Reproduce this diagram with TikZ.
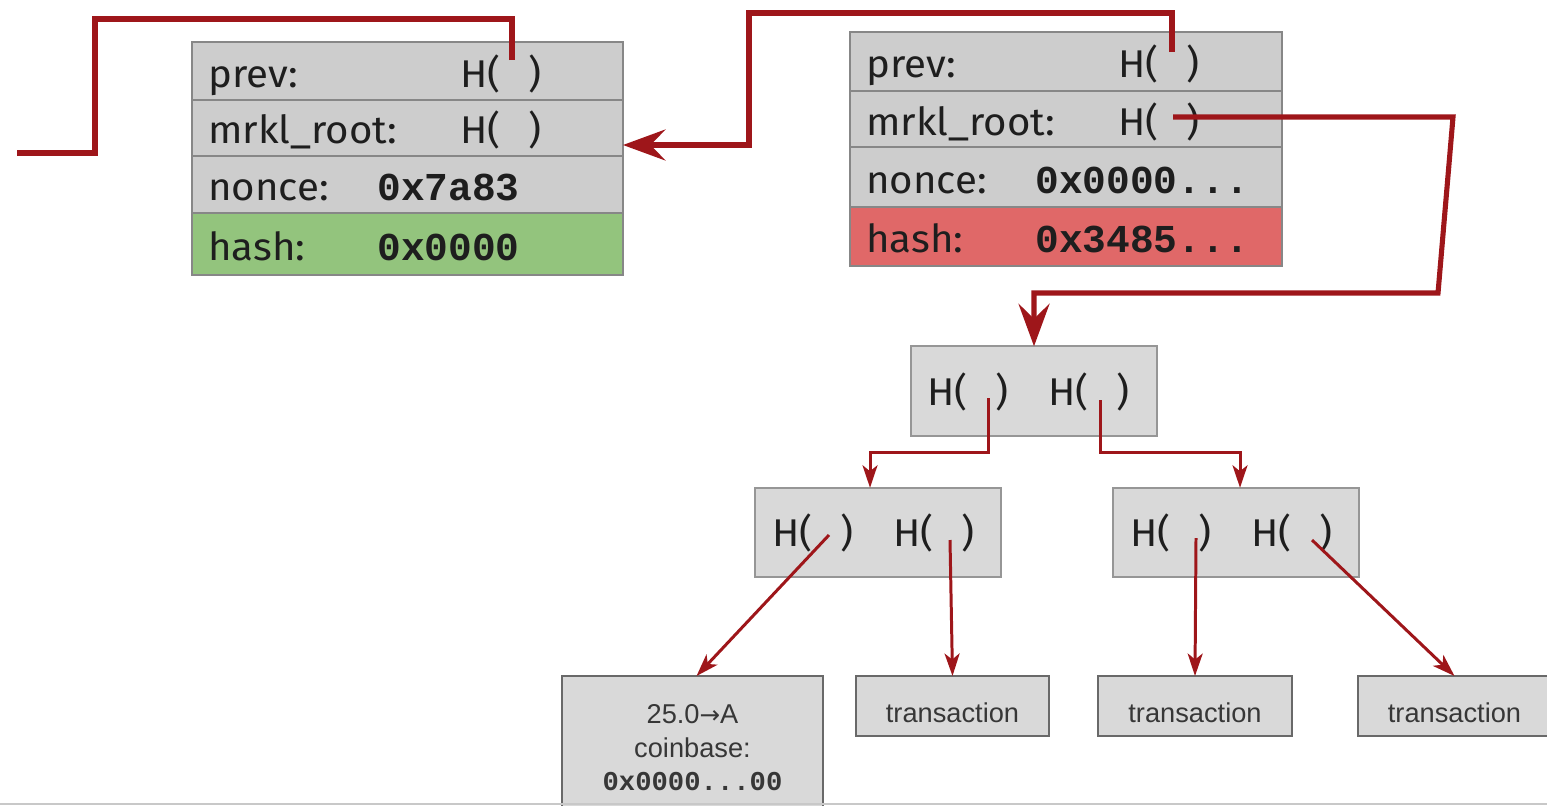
\documentclass[tikz,border=0pt]{standalone}
\usepackage{fontspec}
\setmainfont{Fira Sans}[FakeStretch=1.04]
\newfontfamily\arialf{Liberation Sans}
\newfontfamily\monof{Liberation Mono}
\newfontfamily\dejavuf{DejaVu Sans}
\usetikzlibrary{arrows.meta,calc}
\definecolor{arrred}{RGB}{158,22,26}
\definecolor{blkgray}{RGB}{205,205,205}
\definecolor{blkedge}{RGB}{135,135,135}
\definecolor{hashgreen}{RGB}{147,196,125}
\definecolor{hashred}{RGB}{224,104,104}
\definecolor{treegray}{RGB}{217,217,217}
\definecolor{treeedge}{RGB}{150,150,150}
\definecolor{leafedge}{RGB}{105,105,105}
\definecolor{txtdark}{RGB}{30,30,30}
\definecolor{txtgray}{RGB}{55,55,55}
\definecolor{rulegray}{RGB}{200,200,200}
\newcommand\Hpair{H(\hspace{16pt})}
\begin{document}
\begin{tikzpicture}[x=0.02cm,y=-0.02cm,
  rowbox/.style={draw=blkedge, line width=1.3pt, fill=blkgray, inner sep=0pt, outer sep=0pt},
  treebox/.style={draw=treeedge, line width=1.2pt, fill=treegray, inner sep=0pt, outer sep=0pt, minimum width=4.92cm, minimum height=1.79cm},
  leafbox/.style={draw=leafedge, line width=1.2pt, fill=treegray, inner sep=0pt, outer sep=0pt},
  lbl/.style={anchor=base west, inner sep=0pt, text=txtdark, font=\fontsize{22}{26}\selectfont},
  hexlbl/.style={anchor=base west, inner sep=0pt, text=txtdark, font=\monof\bfseries\fontsize{22.5}{26}\selectfont},
  leaflbl/.style={anchor=base, inner sep=0pt, text=txtgray, font=\arialf\fontsize{15.5}{18}\selectfont},
  bigline/.style={draw=arrred, line width=2.9pt, line join=miter},
  bigarrow/.style={bigline, -{Stealth[length=0.85cm, width=0.62cm, inset=0.3cm]}},
  treearrow/.style={draw=arrred, line width=1.7pt, -{Stealth[length=0.45cm, width=0.3cm, inset=0.12cm]}}
]
\useasboundingbox (0,0) rectangle (1547,805);
\clip (0,0) rectangle (1547,805);

% ---- left block ----
\node[rowbox, minimum width=8.62cm, minimum height=1.16cm] (l1) at (407.5,71) {};
\node[rowbox, minimum width=8.62cm, minimum height=1.12cm] (l2) at (407.5,128) {};
\node[rowbox, minimum width=8.62cm, minimum height=1.14cm] (l3) at (407.5,184.5) {};
\node[rowbox, fill=hashgreen, minimum width=8.62cm, minimum height=1.24cm] (l4) at (407.5,244) {};
\node[lbl] (l1a) at (208,87) {prev:};
\node[lbl] (l1b) at (460,87) {\Hpair};
\node[lbl] (l2a) at (208,143) {mrkl\_root:};
\node[lbl] (l2b) at (460,143) {\Hpair};
\node[lbl] (l3a) at (208,200) {nonce:};
\node[hexlbl] (l3b) at (377,200) {0x7a83};
\node[lbl] (l4a) at (208,260) {hash:};
\node[hexlbl] (l4b) at (377,260) {0x0000};

% ---- right block ----
\node[rowbox, minimum width=8.64cm, minimum height=1.18cm] (r1) at (1066,61.5) {};
\node[rowbox, minimum width=8.64cm, minimum height=1.12cm] (r2) at (1066,119) {};
\node[rowbox, minimum width=8.64cm, minimum height=1.2cm] (r3) at (1066,177) {};
\node[rowbox, fill=hashred, minimum width=8.64cm, minimum height=1.18cm] (r4) at (1066,236.5) {};
\node[lbl] (r1a) at (866,77) {prev:};
\node[lbl] (r1b) at (1118,77) {\Hpair};
\node[lbl] (r2a) at (866,135) {mrkl\_root:};
\node[lbl] (r2b) at (1118,135) {\Hpair};
\node[lbl] (r3a) at (866,193) {nonce:};
\node[hexlbl] (r3b) at (1035,193) {0x0000...};
\node[lbl] (r4a) at (866,252) {hash:};
\node[hexlbl] (r4b) at (1035,252) {0x3485...};

% ---- merkle tree ----
\node[treebox] (root) at (1034,391) {};
\node[lbl] (roota) at (927,405) {\Hpair};
\node[lbl] (rootb) at (1048,405) {\Hpair};
\node[treebox] (ml) at (878,532.5) {};
\node[lbl] (mla) at (772,546) {\Hpair};
\node[lbl] (mlb) at (893,546) {\Hpair};
\node[treebox] (mr) at (1236,532.5) {};
\node[lbl] (mra) at (1130,546) {\Hpair};
\node[lbl] (mrb) at (1251,546) {\Hpair};

% ---- leaves ----
\node[leafbox, minimum width=5.22cm, minimum height=3.08cm] (cb) at (692.5,753) {};
\node[leaflbl] (cb1) at (692.5,723) {25.0{\dejavuf\fontsize{14}{16}\selectfont →}A};
\node[leaflbl] (cb2) at (692.5,757) {coinbase:};
\node[leaflbl, font=\monof\bfseries\fontsize{15.5}{18}\selectfont] (cb3) at (692.5,790) {0x0000...00};
\node[leafbox, minimum width=3.86cm, minimum height=1.2cm] (t1) at (952.5,706) {};
\node[leaflbl] (t1t) at (952.5,722) {transaction};
\node[leafbox, minimum width=3.88cm, minimum height=1.2cm] (t2) at (1195,706) {};
\node[leaflbl] (t2t) at (1195,722) {transaction};
\node[leafbox, minimum width=3.86cm, minimum height=1.2cm] (t3) at (1454.5,706) {};
\node[leaflbl] (t3t) at (1454.5,722) {transaction};

% ---- connector end points ----
\coordinate (sLprev) at (512,60);
\coordinate (sRprev) at (1172,52);
\coordinate (sRmrkl) at (1173,117);
\coordinate (sRootL) at (988,398);
\coordinate (sRootR) at (1100,400);
\coordinate (sMLa) at (829,535);
\coordinate (sMLb) at (950,540);
\coordinate (sMRa) at (1196,538);
\coordinate (sMRb) at (1312,540);
\coordinate (prevEnd) at (17,153);
\coordinate (in2) at ([yshift=-0.34cm]l2.east);

% ---- connectors ----
\draw[bigline] (sLprev) |- (95,19) |- (prevEnd);
\draw[bigarrow] (sRprev) |- (749,13) |- (in2);
\draw[bigarrow] (sRmrkl) -- (1453,117) -- (1438,293) -| (root.north);
\draw[treearrow] (sRootL) -- (988,452) -| ([xshift=-0.16cm]ml.north);
\draw[treearrow] (sRootR) -- (1100,452) -| ([xshift=0.08cm]mr.north);
\draw[treearrow] (sMLa) -- ([xshift=0.08cm]cb.north);
\draw[treearrow] (sMLb) -- (t1.north);
\draw[treearrow] (sMRa) -- (t2.north);
\draw[treearrow] (sMRb) -- (t3.north);

% ---- bottom rule ----
\draw[rulegray, line width=1.5pt] (0,804) -- (1547,804);
\end{tikzpicture}
\end{document}
